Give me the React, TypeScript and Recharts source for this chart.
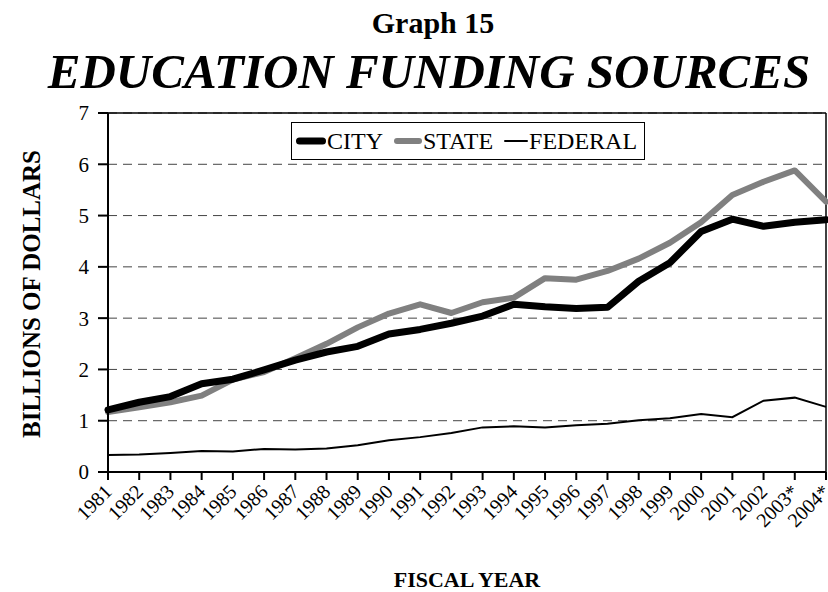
import React from 'react';
import { LineChart, Line, XAxis, YAxis, CartesianGrid, ReferenceLine } from 'recharts';

const years = ['1981','1982','1983','1984','1985','1986','1987','1988','1989','1990','1991','1992','1993','1994','1995','1996','1997','1998','1999','2000','2001','2002','2003*','2004*'];
const city = [1.21,1.36,1.47,1.72,1.81,1.99,2.18,2.34,2.45,2.69,2.78,2.90,3.04,3.27,3.22,3.19,3.21,3.72,4.08,4.69,4.93,4.79,4.87,4.92];
const state = [1.17,1.26,1.36,1.49,1.80,1.95,2.22,2.50,2.82,3.09,3.27,3.10,3.31,3.40,3.78,3.75,3.92,4.16,4.47,4.87,5.40,5.66,5.88,5.27];
const federal = [0.33,0.34,0.37,0.41,0.40,0.45,0.44,0.46,0.52,0.62,0.68,0.76,0.87,0.89,0.87,0.91,0.94,1.01,1.05,1.13,1.07,1.39,1.45,1.27];
const yTicks = [0,1,2,3,4,5,6,7];

const data = years.map((y, i) => ({ year: y, city: city[i], state: state[i], federal: federal[i] }));

const FONT = '"Liberation Serif", "Times New Roman", serif';

const XTick = (props: any) => {
  const { x, y, payload } = props;
  return (
    <g transform={`translate(${x + 5},${y + 11})`}>
      <text transform="rotate(-45)" textAnchor="end" x={0} y={0} fontFamily={FONT} fontSize={20} fill="#000">
        {payload.value}
      </text>
    </g>
  );
};

const legendItems = [
  { label: 'CITY', color: '#000', w: 7, len: 32 },
  { label: 'STATE', color: '#808080', w: 6, len: 30 },
  { label: 'FEDERAL', color: '#000', w: 2, len: 26 },
];

const LegendBox = () => (
  <div style={{ position: 'absolute', left: 291, top: 122, border: '1px solid #000', width: 354, height: 38, display: 'flex', alignItems: 'center', boxSizing: 'border-box', paddingLeft: 3, background: '#fff', fontFamily: FONT, fontSize: 24 }}>
    {legendItems.map((it, i) => (
      <div key={i} style={{ display: 'flex', alignItems: 'center', marginRight: 10 }}>
        <svg width={it.len} height={12} style={{ display: 'block' }}>
          <line x1={it.w / 2 + 1} y1={6} x2={it.len - it.w / 2 - 1} y2={6} stroke={it.color} strokeWidth={it.w} strokeLinecap="round" />
        </svg>
        <span style={{ lineHeight: '36px' }}>{it.label}</span>
      </div>
    ))}
  </div>
);

export default function App() {
  return (
    <div style={{ position: 'absolute', left: 0, top: 0, width: 828, height: 592, background: '#fff', overflow: 'hidden' }}>
      <svg width={828} height={592} style={{ position: 'absolute', left: 0, top: 0 }}>
        <text x={433} y={33} textAnchor="middle" fontFamily={FONT} fontWeight="bold" fontSize={30}>Graph 15</text>
        <text x={429} y={88} textAnchor="middle" fontFamily={FONT} fontWeight="bold" fontStyle="italic" fontSize={49}>EDUCATION FUNDING SOURCES</text>
        <text transform="translate(40,294) rotate(-90)" textAnchor="middle" fontFamily={FONT} fontWeight="bold" fontSize={25}>BILLIONS OF DOLLARS</text>
        <text x={467} y={587} textAnchor="middle" fontFamily={FONT} fontWeight="bold" fontSize={22}>FISCAL YEAR</text>
      </svg>
      <div style={{ position: 'absolute', left: 0, top: 0 }}>
        <LineChart width={828} height={592} data={data} margin={{ top: 113, right: 2, bottom: 0, left: 0 }}>
          <CartesianGrid vertical={false} stroke="#444" strokeDasharray="9 6" />
          <XAxis dataKey="year" padding={{ left: 0, right: 0 }} interval={0} height={120} tick={<XTick />} tickSize={8} tickLine={{ stroke: '#000', strokeWidth: 2 }} axisLine={{ stroke: '#000', strokeWidth: 2 }} />
          <YAxis domain={[0, 7]} ticks={yTicks} width={108} tickSize={10} tickMargin={9} interval={0} tick={{ fontFamily: FONT, fontSize: 21, fill: '#000' }} tickLine={{ stroke: '#000', strokeWidth: 2 }} axisLine={{ stroke: '#000', strokeWidth: 2 }} />
          <ReferenceLine y={7} stroke="#000" strokeWidth={1.5} />
          <ReferenceLine x="2004*" stroke="#000" strokeWidth={1.5} />
          <Line type="linear" dataKey="state" stroke="#808080" strokeWidth={6} dot={false} strokeLinecap="round" strokeLinejoin="round" isAnimationActive={false} />
          <Line type="linear" dataKey="city" stroke="#000" strokeWidth={7} dot={false} strokeLinecap="round" strokeLinejoin="round" isAnimationActive={false} />
          <Line type="linear" dataKey="federal" stroke="#000" strokeWidth={2} dot={false} isAnimationActive={false} />
        </LineChart>
      </div>
      <LegendBox />
    </div>
  );
}
